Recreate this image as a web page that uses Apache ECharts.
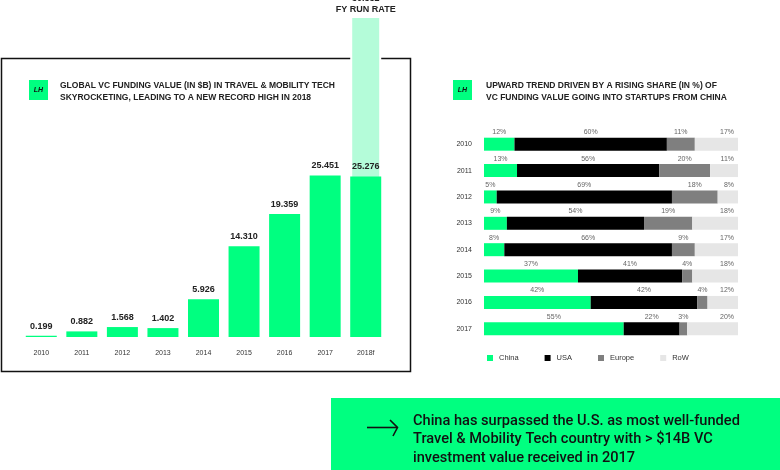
<!DOCTYPE html>
<html>
<head>
<meta charset="utf-8">
<script src="https://cdn.jsdelivr.net/npm/echarts@6/dist/echarts.min.js"></script>
<style>
  html, body { margin: 0; padding: 0; background: #fff; }
  #container { width: 780px; height: 470px; }
</style>
</head>
<body>
<div id="container"></div>
<script>
// left chart: global VC funding value ($B)
var years = ['2010', '2011', '2012', '2013', '2014', '2015', '2016', '2017', '2018f'];
var funding = [0.199, 0.882, 1.568, 1.402, 5.926, 14.310, 19.359, 25.451, 25.276];
var runRate = ['-', '-', '-', '-', '-', '-', '-', '-', 50.552];

// right chart: share by region (%)
var shareYears = ['2010', '2011', '2012', '2013', '2014', '2015', '2016', '2017'];
var china  = [12, 13, 5, 9, 8, 37, 42, 55];
var usa    = [60, 56, 69, 54, 66, 41, 42, 22];
var europe = [11, 20, 18, 19, 9, 4, 4, 3];
var row    = [17, 11, 8, 18, 17, 18, 12, 20];

var GREEN = '#00ff80';
var MINT = '#b4fcd9';
var FONT = '"Liberation Sans", Arial, sans-serif';

var dom = document.getElementById('container');
var myChart = echarts.init(dom, null, { renderer: 'canvas' });

function pctLabel(pos) {
    return {
        show: true,
        position: pos || 'top',
        distance: 2,
        formatter: '{c}%',
        fontSize: 7,
        color: '#666',
        fontFamily: FONT
    };
}

function logo(x, y) {
    return [
        { type: 'rect', shape: { x: x, y: y, width: 19, height: 20 }, style: { fill: GREEN } },
        { type: 'text', x: x + 9.5, y: y + 10, style: {
            text: 'LH', fill: '#111', font: 'italic bold 7px ' + FONT,
            align: 'center', verticalAlign: 'middle' } }
    ];
}

function title(x, y, lines) {
    return { type: 'text', x: x, y: y, style: {
        text: lines.join('\n'), fill: '#222', font: 'bold 8.5px ' + FONT,
        lineHeight: 12.5 } };
}

var option = {
    animation: false,
    textStyle: { fontFamily: FONT },
    grid: [
        { left: 21, width: 365, top: 16, bottom: 133 },
        { left: 484, right: 42, top: 131, bottom: 128 }
    ],
    xAxis: [
        {
            type: 'category', gridIndex: 0, data: years,
            axisLine: { show: false }, axisTick: { show: false },
            axisLabel: { fontSize: 7, color: '#333', margin: 13 }
        },
        {
            type: 'value', gridIndex: 1, min: 0, max: 100, show: false
        }
    ],
    yAxis: [
        { type: 'value', gridIndex: 0, min: 0, max: 50.552, show: false },
        {
            type: 'category', gridIndex: 1, data: shareYears, inverse: true,
            axisLine: { show: false }, axisTick: { show: false },
            axisLabel: { fontSize: 7, color: '#333', margin: 12 }
        }
    ],
    legend: {
        data: ['China', 'USA', 'Europe', 'RoW'],
        left: 482, top: 349,
        itemWidth: 6, itemHeight: 6, itemGap: 26,
        icon: 'rect',
        textStyle: { fontSize: 7.5, color: '#333', padding: [0, 0, 0, 1] }
    },
    graphic: [
        { type: 'rect', z: -1, shape: { x: 1.5, y: 58.5, width: 409, height: 313 },
          style: { fill: null, stroke: '#111', lineWidth: 1.5 } }
    ]
    .concat(logo(29, 80))
    .concat(logo(453, 80))
    .concat([
        title(60, 79, ['GLOBAL VC FUNDING VALUE (IN $B) IN TRAVEL & MOBILITY TECH',
                       'SKYROCKETING, LEADING TO A NEW RECORD HIGH IN 2018']),
        title(486, 79, ['UPWARD TREND DRIVEN BY A RISING SHARE (IN %) OF',
                        'VC FUNDING VALUE GOING INTO STARTUPS FROM CHINA']),
        { type: 'rect', shape: { x: 331, y: 398, width: 449, height: 72 }, style: { fill: GREEN } },
        { type: 'polyline', shape: { points: [[367, 427.5], [397, 427.5]] },
          style: { stroke: '#111', lineWidth: 1.6, fill: null } },
        { type: 'polyline', shape: { points: [[390, 420], [397.5, 427.5], [393, 436]] },
          style: { stroke: '#111', lineWidth: 1.6, fill: null } },
        { type: 'text', x: 413, y: 412, style: {
            text: 'China has surpassed the U.S. as most well-funded\nTravel & Mobility Tech country with > $14B VC\ninvestment value received in 2017',
            fill: '#111', font: '500 14.6px Roboto, sans-serif', lineHeight: 18.5 } }
    ]),
    series: [
        {
            name: 'FY run rate', type: 'bar', xAxisIndex: 0, yAxisIndex: 0,
            data: runRate, barWidth: 31, barGap: '-100%',
            itemStyle: { color: MINT, borderColor: '#fff', borderWidth: 2 },
            label: {
                show: true, position: 'top', distance: 1,
                formatter: function (p) { return p.value.toFixed(3) + '\nFY RUN RATE'; },
                fontSize: 9, fontWeight: 'bold', color: '#222', lineHeight: 11
            }
        },
        {
            name: 'Funding', type: 'bar', xAxisIndex: 0, yAxisIndex: 0,
            data: funding, barWidth: 31,
            itemStyle: { color: GREEN },
            label: {
                show: true, position: 'top', distance: 5,
                formatter: function (p) { return p.value.toFixed(3); },
                fontSize: 9, fontWeight: 'bold', color: '#222'
            }
        },
        {
            name: 'China', type: 'bar', stack: 'share', xAxisIndex: 1, yAxisIndex: 1,
            data: china, barWidth: 13, itemStyle: { color: GREEN }, label: pctLabel()
        },
        {
            name: 'USA', type: 'bar', stack: 'share', xAxisIndex: 1, yAxisIndex: 1,
            data: usa, barWidth: 13, itemStyle: { color: '#000' }, label: pctLabel()
        },
        {
            name: 'Europe', type: 'bar', stack: 'share', xAxisIndex: 1, yAxisIndex: 1,
            data: europe, barWidth: 13, itemStyle: { color: '#7f7f7f' }, label: pctLabel()
        },
        {
            name: 'RoW', type: 'bar', stack: 'share', xAxisIndex: 1, yAxisIndex: 1,
            data: row, barWidth: 13, itemStyle: { color: '#e6e6e6' },
            label: {
                show: true, position: ['100%', -2], align: 'right', verticalAlign: 'bottom',
                offset: [-4, 0], formatter: '{c}%', fontSize: 7, color: '#666'
            }
        }
    ]
};

if (option && typeof option === 'object') {
    myChart.setOption(option, true);
}
</script>
</body>
</html>
